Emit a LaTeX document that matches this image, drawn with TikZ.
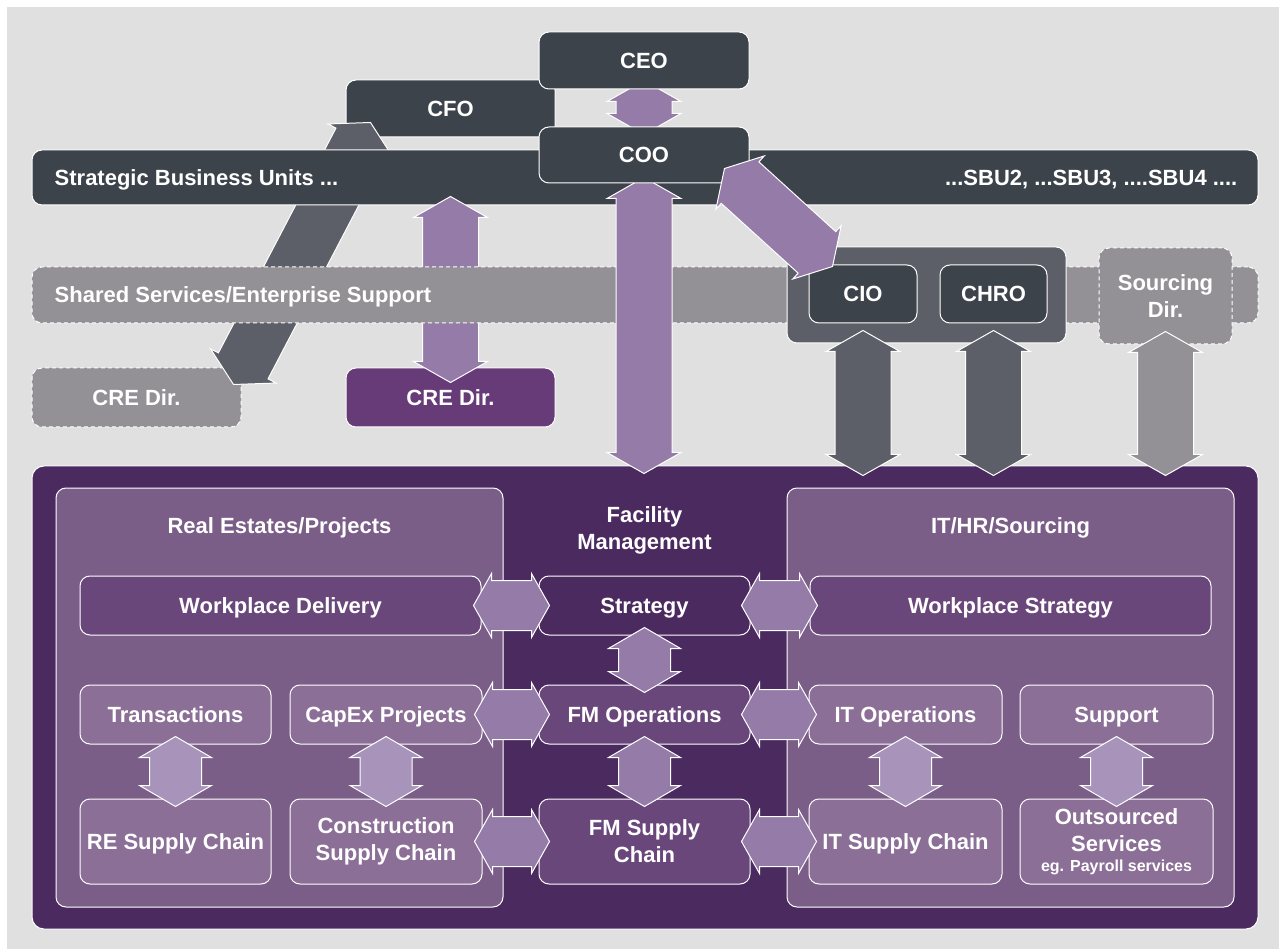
\documentclass[tikz,border=0pt]{standalone}
\usepackage{fontspec}
\setmainfont{Liberation Sans}
\usetikzlibrary{calc, positioning}

\pgfdeclarelayer{front}
\pgfsetlayers{main,front}

\definecolor{bggray}{HTML}{E0E0E0}
\definecolor{slate}{HTML}{3D434B}
\definecolor{steel}{HTML}{5C5F68}
\definecolor{ash}{HTML}{939096}
\definecolor{plum}{HTML}{4B2A60}
\definecolor{creplum}{HTML}{673B78}
\definecolor{mauve}{HTML}{957BA8}
\definecolor{lilac}{HTML}{A894BA}
\definecolor{panel}{HTML}{7B5E88}
\definecolor{deep}{HTML}{69477A}
\definecolor{soft}{HTML}{8B6F97}

% fat double arrow: colour, from, to, half shaft, half head, head length
\newcommand{\fatarrow}[6]{%
  \filldraw[fill=#1, draw=white, line width=1pt]
    (#2) -- ($(#2)!#6!(#3)!#5!90:(#3)$) -- ($(#2)!#6!(#3)!#4!90:(#3)$)
    -- ($(#3)!#6!(#2)!#4!-90:(#2)$) -- ($(#3)!#6!(#2)!#5!-90:(#2)$)
    -- (#3) -- ($(#3)!#6!(#2)!#5!90:(#2)$) -- ($(#3)!#6!(#2)!#4!90:(#2)$)
    -- ($(#2)!#6!(#3)!#4!-90:(#3)$) -- ($(#2)!#6!(#3)!#5!-90:(#3)$) -- cycle;}

\begin{document}
\begin{tikzpicture}[x=1pt, y=-1pt,
    every node/.style={text=white, inner sep=0pt, font=\bfseries\fontsize{22}{27}\selectfont},
    dims/.style 2 args={minimum width=#1pt, minimum height=#2pt}]
	\tikzstyle{box}=[draw=white, line width=1pt, rounded corners=10pt]
	\tikzstyle{dashbox}=[box, dash pattern=on 4pt off 3pt]
	\tikzstyle{oneline}=[text height=16pt, text depth=0pt]

	\useasboundingbox (0,0) rectangle (1283,949);
	\fill[bggray] (7,7) rectangle (1279,949);

	% upper part
	\node[box, fill=slate, dims={209}{57}, oneline] (cfo) at (450.5,108.5) {CFO};
	\node[dashbox, fill=ash, dims={209}{59}, oneline] (cregray) at (136.5,397.5) {CRE Dir.};
	\coordinate (g1) at ($(cregray.north east)+(-8,17)$);
	\coordinate (g2) at ($(cfo.south west)+(25,-15)$);
	\fatarrow{steel}{g1}{g2}{28pt}{37pt}{21pt}

	\node[box, fill=slate, dims={1226}{55}] (sbu) at (645,177.5) {};
	\node[oneline, anchor=west] (sbuL) at ($(sbu.west)+(23,0)$) {Strategic Business Units ...};
	\node[oneline, anchor=east] (sbuR) at ($(sbu.east)+(-21,0)$) {...SBU2, ...SBU3, ....SBU4 ....};

	\node[box, fill=creplum, dims={209}{59}, oneline] (crep) at (450.5,397.5) {CRE Dir.};
	\coordinate (c1) at ($(crep.north)+(0,15)$);
	\coordinate (c2) at ($(crep.north |- sbu.south)+(0,-9)$);
	\fatarrow{mauve}{c1}{c2}{28pt}{37pt}{21pt}

	\node[dashbox, fill=ash, dims={1226}{56}] (shared) at (645,295) {};
	\node[oneline, anchor=west] (sharedL) at ($(shared.west)+(23,0)$) {Shared Services/Enterprise Support};

	\node[box, fill=steel, dims={279}{96}] (itexec) at (926.5,295) {};
	\node[box, fill=slate, dims={108}{58}, oneline] (cio) at (863,294) {CIO};
	\node[box, fill=slate, dims={107}{58}, oneline] (chro) at (993.5,294) {CHRO};
	\node[dashbox, fill=ash, dims={133}{96}, align=center] (srcdir) at (1165.5,296) {Sourcing\\Dir.};

	\node[box, fill=plum, rounded corners=12pt, dims={1226}{463}] (fm) at (645,697.5) {};

	\foreach \u/\c/\o in {cio/steel/7, chro/steel/7, srcdir/ash/-13} {
		\coordinate (\u-s) at ($(\u.south)+(0,\o)$);
		\coordinate (\u-f) at ($(\u.south |- fm.north)+(0,10)$);
		\fatarrow{\c}{\u-s}{\u-f}{28pt}{37pt}{21pt}
	}

	\begin{pgfonlayer}{front}
		\node[box, fill=slate, dims={210}{57}, oneline] (ceo) at (644,60.5) {CEO};
		\node[box, fill=slate, dims={210}{56}, oneline] (coo) at (644,155) {COO};
		\coordinate (k1) at ($(coo.south east)+(-25,-15)$);
		\coordinate (k2) at ($(cio.north west)+(24,2)$);
		\fatarrow{mauve}{k1}{k2}{28pt}{36pt}{21pt}
	\end{pgfonlayer}

	\coordinate (e1) at ($(ceo.south)+(0,-9)$);
	\coordinate (e2) at ($(coo.north)+(0,8)$);
	\fatarrow{mauve}{e1}{e2}{28pt}{37pt}{21pt}
	\coordinate (o1) at ($(coo.south)+(0,-6)$);
	\coordinate (o2) at ($(coo.south |- fm.north)+(0,8)$);
	\fatarrow{mauve}{o1}{o2}{28pt}{37pt}{21pt}

	% lower part
	\node[box, fill=panel, dims={447}{419}] (re) at (279.5,697.5) {};
	\node[box, fill=panel, dims={447}{419}] (it) at (1010.5,697.5) {};
	\node[oneline] (retitle) at (279.5,525) {Real Estates/Projects};
	\node[oneline] (ittitle) at (1010.5,525) {IT/HR/Sourcing};
	\node[align=center] (fmtitle) at (644.5,530) {Facility\\Management};

	\node[box, fill=deep, dims={401}{59}, oneline] (wpdel) at (280.5,605.5) {Workplace Delivery};
	\node[box, fill=plum, dims={211}{59}, oneline] (strat) at (644.5,605.5) {Strategy};
	\node[box, fill=deep, dims={401}{59}, oneline] (wpstrat) at (1010.5,605.5) {Workplace Strategy};

	\node[box, fill=soft, dims={191}{59}, oneline] (trans) at (175.5,714.5) {Transactions};
	\node[box, fill=soft, dims={192}{59}, oneline, right=18pt of trans] (capex) {CapEx Projects};
	\node[box, fill=deep, dims={211}{59}, oneline] (fmops) at (644.5,714.5) {FM Operations};
	\node[box, fill=soft, dims={193}{59}, oneline] (itops) at (905.5,714.5) {IT Operations};
	\node[box, fill=soft, dims={193}{59}, oneline, right=17pt of itops] (support) {Support};

	\node[box, fill=soft, dims={191}{85}, oneline] (resc) at (175.5,841.5) {RE Supply Chain};
	\node[box, fill=soft, dims={192}{85}, align=center, right=18pt of resc] (consc) {Construction\\Supply Chain};
	\node[box, fill=deep, dims={211}{85}, align=center] (fmsc) at (644.5,841.5) {FM Supply\\Chain};
	\node[box, fill=soft, dims={193}{85}, oneline] (itsc) at (905.5,841.5) {IT Supply Chain};
	\node[box, fill=soft, dims={193}{85}, align=center, right=17pt of itsc] (outs)
		{Outsourced\\Services\\[-7pt]{\fontsize{16}{20}\selectfont eg. Payroll services}};

	\foreach \l/\m/\r in {wpdel/strat/wpstrat, capex/fmops/itops, consc/fmsc/itsc} {
		\coordinate (\l-e) at ($(\l.east)+(-8,0)$);
		\coordinate (\m-w) at ($(\m.west)+(11,0)$);
		\coordinate (\m-e) at ($(\m.east)+(-9,0)$);
		\coordinate (\r-w) at ($(\r.west)+(8,0)$);
		\fatarrow{mauve}{\l-e}{\m-w}{25pt}{32pt}{18pt}
		\fatarrow{mauve}{\m-e}{\r-w}{25pt}{32pt}{18pt}
	}
	\foreach \t/\b/\c in {strat/fmops/mauve, fmops/fmsc/mauve, trans/resc/lilac,
		capex/consc/lilac, itops/itsc/lilac, support/outs/lilac} {
		\coordinate (\t-s) at ($(\t.south)+(0,-8)$);
		\coordinate (\b-n) at ($(\b.north)+(0,8)$);
		\fatarrow{\c}{\t-s}{\b-n}{26pt}{36pt}{21pt}
	}
\end{tikzpicture}
\end{document}
